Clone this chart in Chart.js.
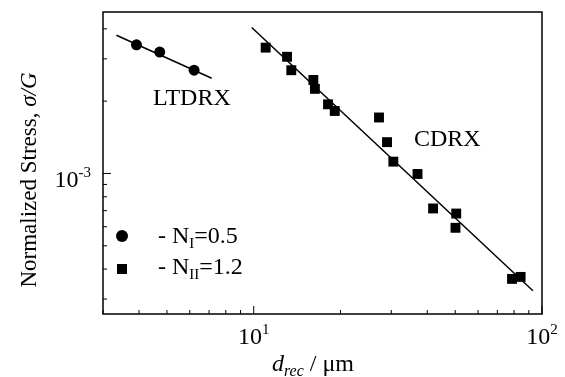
<!DOCTYPE html>
<html>
<head>
<meta charset="utf-8">
<script src="https://cdn.jsdelivr.net/npm/chart.js@4.4.0/dist/chart.umd.min.js"></script>
<style>
  html, body { margin: 0; padding: 0; background: #fff; }
  #wrap { width: 565px; height: 377px; }
</style>
</head>
<body>
<div id="wrap"><canvas id="myChart"></canvas></div>
<script>
// grain size d_rec (um) and normalized stress sigma/G
const ltdrxSize = [3.92, 4.72, 6.21];
const ltdrxStress = [3.43e-3, 3.20e-3, 2.69e-3];

const cdrxSize = [11.0, 13.05, 13.5, 16.1, 16.3, 18.1, 19.1, 27.2, 29.0, 30.5, 37.0, 41.9, 50.4, 50.1, 78.7, 84.3];
const cdrxStress = [3.34e-3, 3.06e-3, 2.69e-3, 2.45e-3, 2.25e-3, 1.94e-3, 1.82e-3, 1.71e-3, 1.35e-3, 1.12e-3, 0.995e-3, 7.15e-4, 6.81e-4, 5.94e-4, 3.64e-4, 3.71e-4];

// fitted lines (end points)
const ltdrxFitSize = [3.34, 7.15];
const ltdrxFitStress = [3.76e-3, 2.49e-3];
const cdrxFitSize = [9.84, 93.0];
const cdrxFitStress = [4.05e-3, 3.25e-4];

// axis ranges and labelled ticks
const xRange = [3, 100];
const yRange = [2.6e-4, 4.7e-3];
const xLabelTicks = [10, 100];
const yLabelTicks = [1e-3];

const serif = '"Liberation Serif", "Times New Roman", serif';
const big = 24;
const small = 15;

function toPoints(xs, ys) {
  return xs.map((v, i) => ({ x: v, y: ys[i] }));
}

function decadeTicks(min, max) {
  const out = [];
  for (let e = Math.floor(Math.log10(min)); e <= Math.ceil(Math.log10(max)); e++) {
    for (let m = 1; m < 10; m++) {
      const v = parseFloat((m * Math.pow(10, e)).toPrecision(6));
      if (v >= min && v <= max) out.push({ value: v, major: m === 1 });
    }
  }
  return out;
}

// draws a list of text pieces: {t, size, dy, italic}
function drawRuns(ctx, runs, x, y, align) {
  const font = r => (r.italic ? 'italic ' : '') + r.size + 'px ' + serif;
  let total = 0;
  runs.forEach(r => { ctx.font = font(r); total += ctx.measureText(r.t).width; });
  let cx = x;
  if (align === 'center') cx = x - total / 2;
  if (align === 'right') cx = x - total;
  ctx.textAlign = 'left';
  ctx.textBaseline = 'alphabetic';
  runs.forEach(r => {
    ctx.font = font(r);
    ctx.fillText(r.t, cx, y + (r.dy || 0));
    cx += ctx.measureText(r.t).width;
  });
}

function powerRuns(v) {
  const e = Math.round(Math.log10(v));
  return [{ t: '10', size: big }, { t: String(e), size: small, dy: -10 }];
}

const decorPlugin = {
  id: 'decor',
  afterDraw(chart) {
    const { ctx, chartArea: a, scales: { x, y } } = chart;
    ctx.save();
    ctx.strokeStyle = '#000';
    ctx.fillStyle = '#000';

    // frame
    ctx.lineWidth = 1.5;
    ctx.strokeRect(a.left, a.top, a.right - a.left, a.bottom - a.top);

    // inward ticks
    ctx.lineWidth = 1;
    x.ticks.forEach(t => {
      const px = x.getPixelForValue(t.value);
      const len = t.major ? 8 : 4;
      ctx.beginPath(); ctx.moveTo(px, a.bottom); ctx.lineTo(px, a.bottom - len); ctx.stroke();
    });
    y.ticks.forEach(t => {
      const py = y.getPixelForValue(t.value);
      const len = t.major ? 8 : 4;
      ctx.beginPath(); ctx.moveTo(a.left, py); ctx.lineTo(a.left + len, py); ctx.stroke();
    });

    // tick labels
    xLabelTicks.forEach(v => drawRuns(ctx, powerRuns(v), x.getPixelForValue(v), a.bottom + 30, 'center'));
    yLabelTicks.forEach(v => drawRuns(ctx, powerRuns(v), a.left - 12, y.getPixelForValue(v) + 14, 'right'));

    // axis titles
    drawRuns(ctx, [
      { t: 'd', size: big, italic: true },
      { t: 'rec', size: 16, italic: true, dy: 5 },
      { t: ' / \u03bcm', size: big }
    ], a.left + 210, a.bottom + 57, 'center');

    ctx.save();
    ctx.translate(36, (a.top + a.bottom) / 2 + 17);
    ctx.rotate(-Math.PI / 2);
    drawRuns(ctx, [
      { t: 'Normalized Stress, ', size: 23 },
      { t: '\u03c3/G', size: 23, italic: true }
    ], 0, 0, 'center');
    ctx.restore();

    // annotations
    drawRuns(ctx, [{ t: 'LTDRX', size: big }], a.left + 50, a.top + 93, 'left');
    drawRuns(ctx, [{ t: 'CDRX', size: big }], a.left + 311, a.top + 134, 'left');

    // legend
    const lx = a.left + 19;
    ctx.beginPath(); ctx.arc(lx, a.top + 224, 6, 0, Math.PI * 2); ctx.fill();
    ctx.fillRect(lx - 5, a.top + 252, 10, 10);
    drawRuns(ctx, [
      { t: '- N', size: big }, { t: 'I', size: small, dy: 5 }, { t: '=0.5', size: big }
    ], a.left + 55, a.top + 231, 'left');
    drawRuns(ctx, [
      { t: '- N', size: big }, { t: 'II', size: small, dy: 5 }, { t: '=1.2', size: big }
    ], a.left + 55, a.top + 262, 'left');

    ctx.restore();
  }
};

const ctx = document.getElementById('myChart').getContext('2d');

new Chart(ctx, {
  type: 'scatter',
  data: {
    datasets: [
      {
        label: 'LTDRX fit',
        data: toPoints(ltdrxFitSize, ltdrxFitStress),
        showLine: true,
        borderColor: '#000',
        borderWidth: 1.5,
        pointRadius: 0
      },
      {
        label: 'CDRX fit',
        data: toPoints(cdrxFitSize, cdrxFitStress),
        showLine: true,
        borderColor: '#000',
        borderWidth: 1.5,
        pointRadius: 0
      },
      {
        label: 'N_I=0.5',
        data: toPoints(ltdrxSize, ltdrxStress),
        pointStyle: 'circle',
        pointRadius: 5.5,
        backgroundColor: '#000',
        borderColor: '#000',
        borderWidth: 0
      },
      {
        label: 'N_II=1.2',
        data: toPoints(cdrxSize, cdrxStress),
        pointStyle: 'rect',
        pointRadius: 7,
        backgroundColor: '#000',
        borderColor: '#000',
        borderWidth: 0
      }
    ]
  },
  options: {
    responsive: true,
    maintainAspectRatio: false,
    animation: false,
    layout: { padding: { left: 103, right: 23, top: 12, bottom: 63 } },
    plugins: {
      legend: { display: false },
      tooltip: { enabled: false }
    },
    scales: {
      x: {
        type: 'logarithmic',
        min: xRange[0],
        max: xRange[1],
        grid: { display: false },
        border: { display: false },
        ticks: { display: false },
        afterBuildTicks: s => { s.ticks = decadeTicks(s.min, s.max); },
        afterFit: s => { s.height = 0; }
      },
      y: {
        type: 'logarithmic',
        min: yRange[0],
        max: yRange[1],
        grid: { display: false },
        border: { display: false },
        ticks: { display: false },
        afterBuildTicks: s => { s.ticks = decadeTicks(s.min, s.max); },
        afterFit: s => { s.width = 0; }
      }
    }
  },
  plugins: [decorPlugin]
});
</script>
</body>
</html>
